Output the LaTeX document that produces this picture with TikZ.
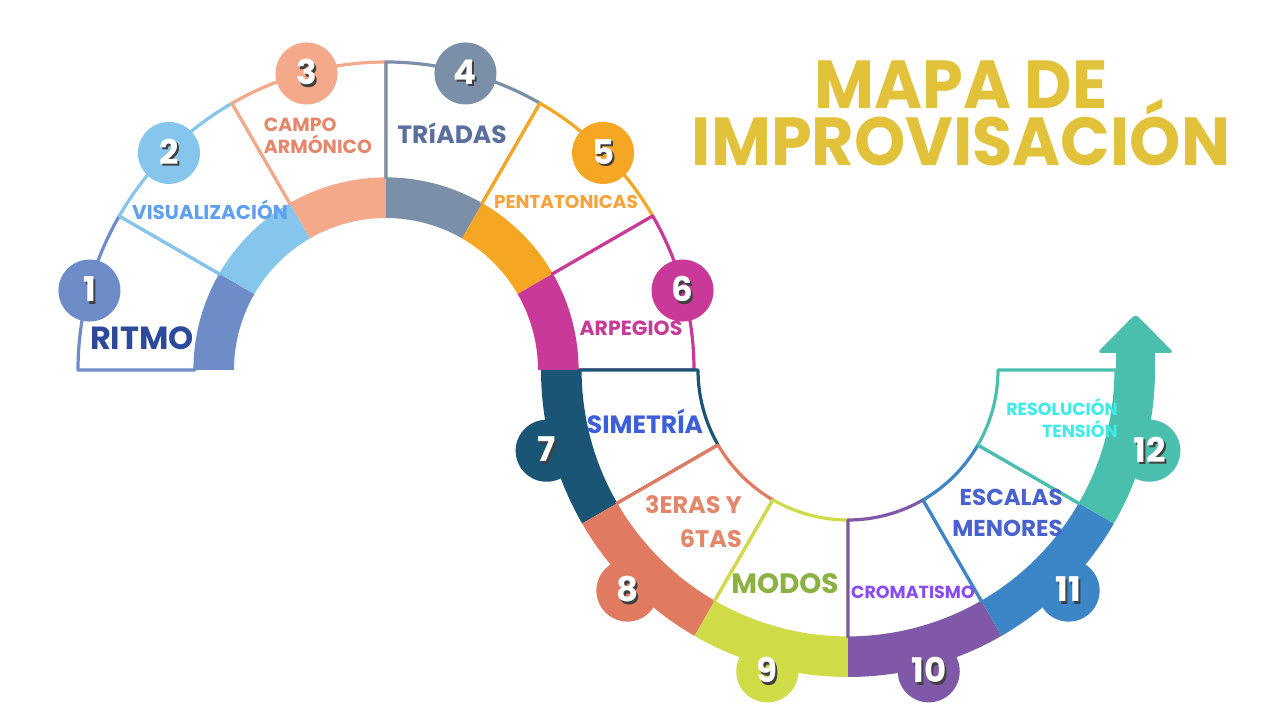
\documentclass[tikz,border=0pt]{standalone}
\usepackage{fontspec}
\setmainfont{Poppins}
\usetikzlibrary{calc}
\definecolor{c1}{HTML}{6E8CC8}
\definecolor{c2}{HTML}{86C6EC}
\definecolor{c3}{HTML}{F4A98A}
\definecolor{c4}{HTML}{7B8FA8}
\definecolor{c5}{HTML}{F5A623}
\definecolor{c6}{HTML}{C8399A}
\definecolor{c7}{HTML}{1B5575}
\definecolor{c8}{HTML}{E07B62}
\definecolor{c9}{HTML}{CFDC48}
\definecolor{c10}{HTML}{7F58A8}
\definecolor{c11}{HTML}{3C86C8}
\definecolor{c12}{HTML}{4BBFAE}
\definecolor{t1}{HTML}{2C4A99}
\definecolor{t2}{HTML}{5FA0EE}
\definecolor{t3}{HTML}{E5876A}
\definecolor{t4}{HTML}{5B6F9E}
\definecolor{t5}{HTML}{F5A33A}
\definecolor{t6}{HTML}{C83A98}
\definecolor{t7}{HTML}{3C5FD9}
\definecolor{t8}{HTML}{E3876B}
\definecolor{t9}{HTML}{8CB143}
\definecolor{t10}{HTML}{8A4CF2}
\definecolor{t11}{HTML}{4863CF}
\definecolor{t12}{HTML}{3DEBE8}
\definecolor{gold}{HTML}{E2C23A}
\newcommand\shnum[1]{\makebox[0pt]{\hspace{4pt}\raisebox{-2.5pt}{\textcolor{black!75}{#1}}}\makebox[0pt]{\textcolor{white}{#1}}}
\newcommand\tightlines{\lineskiplimit=-100pt\relax\lineskip=0pt\relax}
\begin{document}
\begin{tikzpicture}[x=1pt,y=1pt,
  boxline/.style={draw=#1,line width=3.2pt,fill=white,line join=round},
  numc/.style={circle,fill=#1,minimum size=62pt,inner sep=0pt,font=\fontsize{34}{34}\selectfont\bfseries},
  lbl/.style={text=#1,font=\bfseries,inner sep=0pt}]
\useasboundingbox (0,0) rectangle (1280,720);
\coordinate (U) at (386,350);
\coordinate (L) at (848,350);
% upper boxes
\foreach \k in {1,...,6} {
  \pgfmathsetmacro\aa{180-30*(\k-1)}
  \pgfmathsetmacro\ab{180-30*\k}
  \draw[boxline=c\k] ($(U)+(\aa:191)$) -- ($(U)+(\aa:308)$) arc[start angle=\aa,end angle=\ab,radius=308] -- ($(U)+(\ab:191)$) arc[start angle=\ab,end angle=\aa,radius=191] -- cycle;
}
% lower boxes
\foreach \k in {7,...,12} {
  \pgfmathsetmacro\aa{180+30*(\k-7)}
  \pgfmathsetmacro\ab{210+30*(\k-7)}
  \draw[boxline=c\k] ($(L)+(\aa:150)$) -- ($(L)+(\aa:268)$) arc[start angle=\aa,end angle=\ab,radius=268] -- ($(L)+(\ab:150)$) arc[start angle=\ab,end angle=\aa,radius=150] -- cycle;
}
% upper band
\foreach \k in {1,...,6} {
  \pgfmathsetmacro\aa{180-30*(\k-1)}
  \pgfmathsetmacro\ab{180-30*\k}
  \fill[c\k] ($(U)+(\aa:152)$) arc[start angle=\aa,end angle=\ab,radius=152] -- ($(U)+(\ab:191)$) arc[start angle=\ab,end angle=\aa,radius=191] -- cycle;
}
% lower band
\foreach \k in {7,...,12} {
  \pgfmathsetmacro\aa{180+30*(\k-7)}
  \pgfmathsetmacro\ab{210+30*(\k-7)}
  \fill[c\k] ($(L)+(\aa:268)$) arc[start angle=\aa,end angle=\ab,radius=268] -- ($(L)+(\ab:307)$) arc[start angle=\ab,end angle=\aa,radius=307] -- cycle;
}
% arrow
\fill[c12] (1116,349) rectangle (1155,369);
\fill[c12,rounded corners=4pt] (1097,367) -- (1135.5,406) -- (1174,367) -- cycle;
% number circles
\foreach \k/\ang in {1/165,2/135,3/105,4/75,5/45,6/15} {
  \node[numc=c\k] (n\k) at ($(U)+(\ang:307)$) {\shnum{\k}};
}
\foreach \k/\ang in {7/195,8/225,9/255,10/285,11/315,12/345} {
  \node[numc=c\k] (n\k) at ($(L)+(\ang:312)$) {\shnum{\k}};
}
% labels
\node[lbl=t1,font=\fontsize{32}{32}\selectfont\bfseries] (l1) at (142,382) {RITMO};
\node[lbl=t2,font=\fontsize{20}{20}\selectfont\bfseries] (l2) at (210,510) {VISUALIZACIÓN};
\node[lbl=t3,font=\fontsize{19}{22}\selectfont\bfseries,align=left] (l3) at (318,584) {CAMPO\\ARMÓNICO};
\node[lbl=t4,font=\fontsize{25}{25}\selectfont\bfseries] (l4) at (452,587) {TRíADAS};
\node[lbl=t5,font=\fontsize{18.5}{18.5}\selectfont\bfseries] (l5) at (566,518) {PENTATONICAS};
\node[lbl=t6,font=\fontsize{20.5}{20.5}\selectfont\bfseries] (l6) at (631,392) {ARPEGIOS};
\node[lbl=t7,font=\fontsize{25}{25}\selectfont\bfseries] (l7) at (645,299) {SIMETRÍA};
\node[lbl=t8,font=\fontsize{24}{34}\selectfont\bfseries,align=right,anchor=east] (l8) at (742,198) {3ERAS Y\\6TAS};
\node[lbl=t9,font=\fontsize{28}{28}\selectfont\bfseries] (l9) at (785,136) {MODOS};
\node[lbl=t10,font=\fontsize{17.5}{17.5}\selectfont\bfseries] (l10) at (913,128) {CROMATISMO};
\node[lbl=t11,font=\fontsize{23}{31}\selectfont\bfseries,align=right,anchor=east] (l11) at (1063,207) {ESCALAS\\MENORES};
\node[lbl=t12,font=\fontsize{17.5}{22}\selectfont\bfseries,align=right,anchor=east] (l12) at (1118,302) {RESOLUCIÓN\\TENSIÓN};
% title
\node[inner sep=0pt,text=gold,align=center,xscale=0.96,
      font=\fontsize{68}{57}\selectfont\bfseries\tightlines]
  (title) at (961,607) {MAPA DE\\IMPROVISACIÓN};
\end{tikzpicture}
\end{document}
